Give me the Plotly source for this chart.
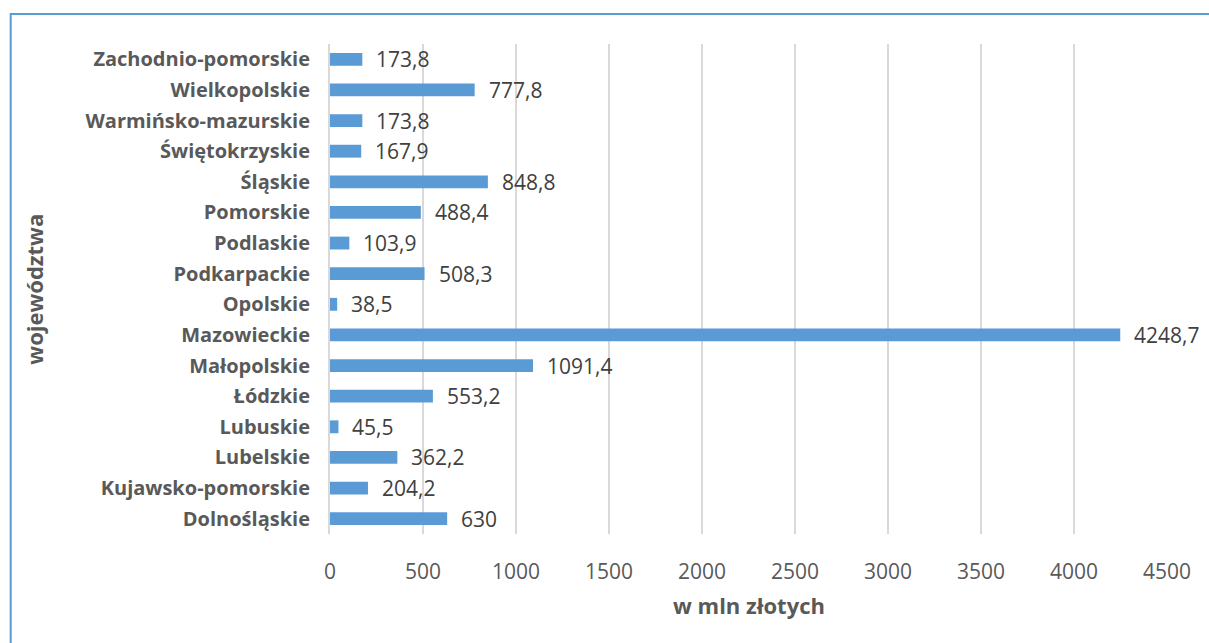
import plotly.graph_objects as go

categories = ["Dolnośląskie", "Kujawsko-pomorskie", "Lubelskie", "Lubuskie", "Łódzkie",
              "Małopolskie", "Mazowieckie", "Opolskie", "Podkarpackie", "Podlaskie",
              "Pomorskie", "Śląskie", "Świętokrzyskie", "Warmińsko-mazurskie",
              "Wielkopolskie", "Zachodnio-pomorskie"]
values = [630, 204.2, 362.2, 45.5, 553.2, 1091.4, 4248.7, 38.5, 508.3, 103.9,
          488.4, 848.8, 167.9, 173.8, 777.8, 173.8]
value_labels = ["630", "204,2", "362,2", "45,5", "553,2", "1091,4", "4248,7", "38,5",
                "508,3", "103,9", "488,4", "848,8", "167,9", "173,8", "777,8", "173,8"]
x_ticks = [0, 500, 1000, 1500, 2000, 2500, 3000, 3500, 4000, 4500]
x_title = "w mln złotych"
y_title = "województwa"

FONT = "'Open Sans', sans-serif"

fig = go.Figure()
fig.add_trace(go.Bar(
    y=categories, x=values, orientation="h",
    marker=dict(color="#5B9BD5", line=dict(width=0)),
    width=0.42, hoverinfo="x+y",
))

annotations = []
for c, v, t in zip(categories, values, value_labels):
    annotations.append(dict(x=v, y=c, xref="x", yref="y", text=t, showarrow=False,
                            xanchor="left", yanchor="middle", xshift=12,
                            font=dict(family=FONT, size=21, color="#404040")))
annotations.append(dict(x=0.5, y=-0.145, xref="paper", yref="paper", text="<b>" + x_title + "</b>",
                        showarrow=False, xanchor="center", yanchor="middle",
                        font=dict(family=FONT, size=22, color="#595959")))
annotations.append(dict(x=-0.354, y=0.5, xref="paper", yref="paper", text="<b>" + y_title + "</b>",
                        showarrow=False, xanchor="center", yanchor="middle", textangle=-90,
                        font=dict(family=FONT, size=22, color="#595959")))

fig.update_layout(
    width=1209, height=643,
    margin=dict(l=330, r=42, t=44, b=109),
    paper_bgcolor="white", plot_bgcolor="white",
    showlegend=False,
    annotations=annotations,
    shapes=[dict(type="rect", xref="paper", yref="paper",
                 x0=-0.3815, x1=1.3, y0=-0.5, y1=1.0612,
                 line=dict(color="#5B9BD5", width=2), fillcolor="rgba(0,0,0,0)", layer="below")],
)
fig.update_xaxes(
    range=[0, 4500], tickvals=x_ticks, ticktext=[str(t) for t in x_ticks],
    showgrid=True, gridcolor="#D9D9D9", gridwidth=2, zeroline=False,
    showline=False, ticks="outside", ticklen=19, tickcolor="rgba(0,0,0,0)",
    tickfont=dict(family=FONT, size=21, color="#595959"), fixedrange=True,
)
fig.update_yaxes(
    type="category", categoryorder="array", categoryarray=categories,
    range=[-0.5, 15.5],
    showgrid=False, zeroline=False, showline=True, linecolor="#D9D9D9", linewidth=2,
    ticks="outside", ticklen=14, tickcolor="rgba(0,0,0,0)",
    tickfont=dict(family=FONT, size=20, color="#595959", weight="bold"),
)

fig.write_html("out.html")
